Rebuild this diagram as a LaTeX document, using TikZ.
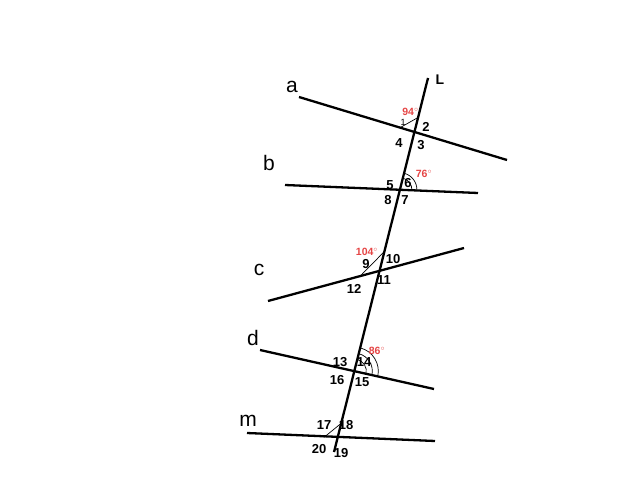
\documentclass[tikz,border=0pt]{standalone}
\usepackage{fontspec}
\setmainfont{Liberation Sans}
\usetikzlibrary{calc}
\begin{document}
\begin{tikzpicture}[x=1pt,y=-1pt,
  ln/.style={line width=2.3pt},
  thinl/.style={line width=0.7pt},
  big/.style={font=\fontsize{21}{21}\selectfont, inner sep=0},
  num/.style={font=\fontsize{13}{13}\selectfont\bfseries, inner sep=0},
  deg/.style={font=\fontsize{10.5}{10}\selectfont\bfseries, text=red!70!white!90!black, inner sep=0}]
\useasboundingbox (0,0) rectangle (642,503);
\coordinate (Lt) at (428,78);
\coordinate (Lb) at (334,452);
\coordinate (at) at (299,97);  \coordinate (ab) at (507,160);
\coordinate (bt) at (285,185); \coordinate (bb) at (478,193);
\coordinate (ct) at (268,301); \coordinate (cb) at (464,248);
\coordinate (dt) at (260,350); \coordinate (db) at (434,389);
\coordinate (mt) at (247,433); \coordinate (mb) at (435,441);
\draw[ln] (Lt) -- (Lb);
\draw[ln] (at) -- (ab);
\draw[ln] (bt) -- (bb);
\draw[ln] (ct) -- (cb);
\draw[ln] (dt) -- (db);
\draw[ln] (mt) -- (mb);
\coordinate (A) at (intersection of Lt--Lb and at--ab);
\coordinate (B) at (intersection of Lt--Lb and bt--bb);
\coordinate (C) at (intersection of Lt--Lb and ct--cb);
\coordinate (D) at (intersection of Lt--Lb and dt--db);
\coordinate (M) at (intersection of Lt--Lb and mt--mb);
% angle marks
\draw[thinl] ($(A)+(-163.2:15)$) -- ($(A)+(-75.9:15)$);
\draw[thinl] ($(B)+(2.4:12)$) arc[start angle=2.4, end angle=-75.9, radius=12];
\draw[thinl] ($(B)+(2.4:17)$) arc[start angle=2.4, end angle=-75.9, radius=17];
\draw[thinl] ($(C)+(165:20)$) -- ($(C)+(-75.9:20)$);
\draw[thinl] ($(D)+(12.6:12)$) arc[start angle=12.6, end angle=-75.9, radius=12];
\draw[thinl] ($(D)+(12.6:18)$) arc[start angle=12.6, end angle=-75.9, radius=18];
\draw[thinl] ($(D)+(12.6:24)$) arc[start angle=12.6, end angle=-75.9, radius=24];
\draw[thinl] ($(M)+(-182.4:14)$) -- ($(M)+(-75.9:14)$);
% line names
\node[big] (la) at (292,87) {a};
\node[big] (lb) at (269,163) {b};
\node[big] (lc) at (259,270) {c};
\node[big] (ld) at (253,338) {d};
\node[big] (lm) at (248,421) {m};
\node[font=\fontsize{14}{14}\selectfont\bfseries, inner sep=0] (lL) at (440,80) {L};
% numbers
\node[font=\fontsize{9}{9}\selectfont, inner sep=0] (n1) at (403,122.5) {1};
\node[num] (n2) at (426,127) {2};
\node[num] (n3) at (421,145) {3};
\node[num] (n4) at (399,143) {4};
\node[num] (n5) at (390,185) {5};
\node[num] (n6) at (408,183) {6};
\node[num] (n7) at (405,200) {7};
\node[num] (n8) at (388,200) {8};
\node[num] (n9) at (366,264) {9};
\node[num] (n10) at (393,259) {10};
\node[num] (n11) at (384,280) {11};
\node[num] (n12) at (354,289) {12};
\node[num] (n13) at (340,362) {13};
\node[num] (n14) at (364,362) {14};
\node[num] (n15) at (362,382) {15};
\node[num] (n16) at (337,380) {16};
\node[num] (n17) at (324,425) {17};
\node[num] (n18) at (346,425) {18};
\node[num] (n19) at (341,453) {19};
\node[num] (n20) at (319,449) {20};
% degrees
\node[deg] (d94) at (410.5,112) {94$^{\circ}$};
\node[deg] (d76) at (424,174) {76$^{\circ}$};
\node[deg] (d104) at (367,252) {104$^{\circ}$};
\node[deg] (d86) at (377,351) {86$^{\circ}$};
\end{tikzpicture}
\end{document}
